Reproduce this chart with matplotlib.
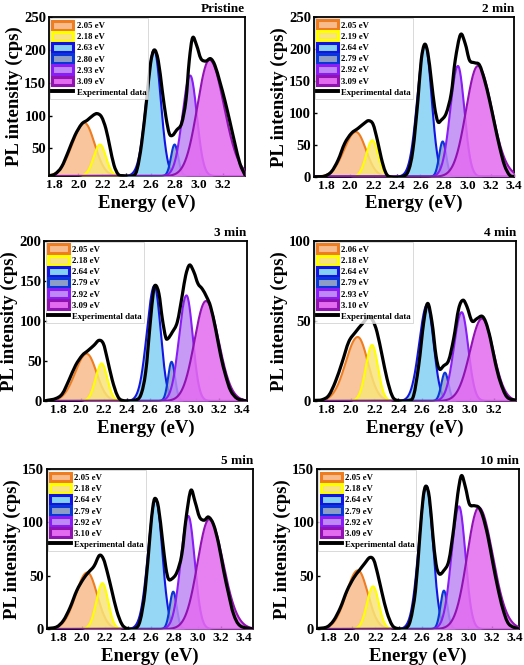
import numpy as np
import matplotlib.pyplot as plt
from matplotlib.patches import Patch, PathPatch
from matplotlib.lines import Line2D
from matplotlib.path import Path

plt.rcParams['font.family'] = ['Liberation Serif', 'DejaVu Serif']
plt.rcParams['font.weight'] = 'bold'

titles = ['Pristine', '2 min', '3 min', '4 min', '5 min', '10 min']

# fitted peak centres (eV), as given in the legends
centers = [
    [2.05, 2.18, 2.63, 2.80, 2.93, 3.09],
    [2.05, 2.19, 2.64, 2.79, 2.92, 3.09],
    [2.05, 2.18, 2.64, 2.79, 2.92, 3.09],
    [2.06, 2.18, 2.64, 2.79, 2.93, 3.10],
    [2.05, 2.18, 2.64, 2.79, 2.92, 3.10],
    [2.05, 2.18, 2.64, 2.79, 2.92, 3.09],
]
# peak heights (cps)
heights = [
    [89, 56, 200, 56, 161, 185],
    [70, 57, 207, 55, 173, 173],
    [59, 47, 144, 49, 132, 125],
    [40, 35, 60, 17.7, 55.5, 51.5],
    [53, 43, 122, 35, 106, 103],
    [55, 40, 134, 36, 115, 114],
]
# widths (eV), low / high energy side
sig_left = [0.10, 0.052, 0.065, 0.03, 0.065, 0.10]
sig_right = [0.085, 0.05, 0.055, 0.03, 0.055, 0.12]
# the 3.1 eV band is narrower on its high energy side in some runs
magenta_right = [0.12, 0.12, 0.11, 0.095, 0.12, 0.12]
baselines = [8, 0, 0, 0, 0, 0]

# experimental spectra
exp_energy = [
    [1.756, 1.806, 1.861, 1.916, 1.972, 2.027, 2.074, 2.124, 2.157, 2.193, 2.229, 2.262, 2.296, 2.332, 2.373,
     2.456, 2.49, 2.526, 2.567, 2.60, 2.631, 2.664, 2.697, 2.728, 2.756, 2.783, 2.817, 2.858, 2.894, 2.922,
     2.95, 2.983, 3.019, 3.06, 3.099, 3.135, 3.177, 3.218, 3.26, 3.301, 3.343, 3.385],
    [1.69, 1.727, 1.784, 1.841, 1.898, 1.954, 2.011, 2.068, 2.125, 2.159, 2.196, 2.233, 2.267, 2.301, 2.338,
     2.437, 2.494, 2.536, 2.579, 2.607, 2.636, 2.664, 2.693, 2.721, 2.749, 2.778, 2.82, 2.863, 2.897, 2.942,
     2.982, 3.019, 3.062, 3.104, 3.147, 3.189, 3.232, 3.275, 3.317, 3.36, 3.40],
    [1.68, 1.706, 1.779, 1.837, 1.895, 1.953, 2.011, 2.061, 2.113, 2.157, 2.195, 2.229, 2.273, 2.317, 2.36,
     2.462, 2.52, 2.564, 2.602, 2.631, 2.651, 2.68, 2.709, 2.738, 2.758, 2.796, 2.84, 2.883, 2.913, 2.947,
     2.985, 3.02, 3.058, 3.096, 3.131, 3.174, 3.218, 3.261, 3.305, 3.363, 3.445],
    [1.692, 1.706, 1.762, 1.818, 1.873, 1.929, 1.985, 2.041, 2.096, 2.152, 2.188, 2.222, 2.264, 2.305, 2.347,
     2.389, 2.487, 2.528, 2.57, 2.612, 2.646, 2.682, 2.715, 2.743, 2.779, 2.821, 2.863, 2.905, 2.941, 2.975,
     3.016, 3.058, 3.10, 3.133, 3.17, 3.211, 3.253, 3.309, 3.387],
    [1.70, 1.714, 1.786, 1.844, 1.901, 1.959, 2.016, 2.059, 2.108, 2.154, 2.189, 2.223, 2.261, 2.304, 2.347,
     2.39, 2.462, 2.505, 2.548, 2.591, 2.614, 2.634, 2.663, 2.698, 2.726, 2.749, 2.778, 2.821, 2.864, 2.902,
     2.942, 2.979, 3.017, 3.057, 3.094, 3.137, 3.181, 3.224, 3.267, 3.31, 3.367, 3.48],
    [1.698, 1.712, 1.784, 1.841, 1.899, 1.956, 2.014, 2.062, 2.108, 2.151, 2.186, 2.22, 2.257, 2.30, 2.344,
     2.387, 2.458, 2.501, 2.545, 2.582, 2.611, 2.636, 2.665, 2.694, 2.722, 2.751, 2.788, 2.832, 2.875, 2.909,
     2.941, 2.975, 3.01, 3.053, 3.09, 3.124, 3.167, 3.21, 3.253, 3.297, 3.348, 3.434],
]
exp_intensity = [
    [8.5, 11, 22, 45, 70, 87, 93, 100.6, 103, 98, 80, 52.5, 24.7, 10.5, 8.5,
     8.5, 19.6, 57.6, 123, 179, 200, 184, 138.6, 98, 72.8, 70, 78, 88, 123, 184,
     218.6, 207, 186.7, 183, 186.7, 176.6, 151, 123, 90.5, 57.6, 27, 9.5],
    [0, 0, 1, 7.8, 26, 52, 67.7, 75.5, 84, 87.5, 82, 57, 28.6, 7.8, 0,
     0, 7.8, 41.7, 120, 182, 206.8, 192.7, 151, 109, 86, 88.5, 99, 130, 182, 222,
     208, 182, 178, 174.5, 151, 120, 83, 47, 18, 2.6, 0],
    [0, 0.8, 3, 9, 26, 44.6, 57, 63, 69.6, 75.8, 71.7, 53, 26, 7, 0.8,
     0.8, 7, 36, 94.6, 136, 144.6, 134, 103, 80, 78, 86, 98.8, 132, 157, 170,
     161, 146.7, 140, 130, 117.5, 90, 57, 32, 13, 3, 0],
    [0.4, 0.4, 0.8, 3.5, 12, 24, 37, 43, 48, 52.5, 50, 43, 28.5, 14, 3.5,
     0.4, 0.4, 3.5, 22, 49, 61, 49, 28.5, 20, 22, 25.4, 39, 57.7, 63, 58.8,
     50, 51.5, 53, 49, 39, 24, 12, 2.5, 0.4],
    [0.5, 0.6, 2, 8, 20, 36, 47, 53, 59, 69, 65.6, 53, 36, 17, 4.7,
     0.6, 0.6, 8, 36, 89, 114, 122.5, 114, 83, 58, 47, 47, 53, 70, 105,
     130, 119, 105, 102, 105, 98, 80, 55, 33, 14, 3, 0],
    [0.5, 0.6, 2, 8, 20, 36, 48, 55, 61.5, 67, 64.7, 51.6, 34, 15.6, 3.75,
     0.6, 0.6, 8, 36, 86, 123, 134, 123, 89, 61, 51.6, 54.7, 64, 95, 126.5,
     143.8, 133, 117, 115.6, 114, 106, 87.5, 62.5, 39, 19, 4.7, 0],
]

xlims = [(1.756, 3.385), (1.69, 3.401), (1.68, 3.445), (1.692, 3.387), (1.70, 3.48), (1.698, 3.434)]
ylims = [(8, 250), (0, 250), (0, 200), (0, 100), (0, 150), (0, 150)]
ytick_sets = [[50, 100, 150, 200, 250], [0, 50, 100, 150, 200, 250], [0, 50, 100, 150, 200],
              [0, 50, 100], [0, 50, 100, 150], [0, 50, 100, 150]]
xticks = [1.8, 2.0, 2.2, 2.4, 2.6, 2.8, 3.0, 3.2, 3.4]

fill_colors = ['#f8bb8c', '#f8e47a', '#84d0f4', '#8e9dc6', '#be88f5', '#e36bef']
edge_colors = ['#ee7d22', '#ffff00', '#1414e0', '#0a35d8', '#8a1cf5', '#9012b0']

# axes boxes in figure fractions [left, bottom, width, height]
boxes = [
    [0.0935, 0.7353, 0.374, 0.239],
    [0.5987, 0.7343, 0.3828, 0.2406],
    [0.0845, 0.397, 0.3863, 0.2406],
    [0.5987, 0.397, 0.3866, 0.2406],
    [0.0891, 0.0541, 0.3943, 0.2406],
    [0.605, 0.0541, 0.385, 0.2406],
]


def peak(e, c, h, sl, sr, base):
    s = np.where(e < c, sl, sr)
    return base + (h - base) * np.exp(-(e - c) ** 2 / (2 * s ** 2))


def smooth_path(x, y):
    # cubic bezier path through the read points (catmull-rom tangents)
    p = np.column_stack([x, y]).astype(float)
    pp = np.vstack([p[0], p, p[-1]])
    verts = [p[0]]
    codes = [Path.MOVETO]
    for i in range(len(p) - 1):
        c1 = pp[i + 1] + (pp[i + 2] - pp[i]) / 6.0
        c2 = pp[i + 2] - (pp[i + 3] - pp[i + 1]) / 6.0
        verts += [c1, c2, pp[i + 2]]
        codes += [Path.CURVE4] * 3
    return Path(verts, codes)


fig = plt.figure(figsize=(5.24, 6.65), dpi=100)

for k in range(6):
    ax = fig.add_axes(boxes[k])
    e = np.linspace(xlims[k][0], xlims[k][1], 800)
    base = baselines[k]
    handles = []
    for j in range(6):
        sr = magenta_right[k] if j == 5 else sig_right[j]
        y = peak(e, centers[k][j], heights[k][j], sig_left[j], sr, base)
        ax.fill_between(e, base, y, color=fill_colors[j], alpha=0.85, lw=0, zorder=2 + j)
        ax.plot(e, y, color=edge_colors[j], lw=1.5, zorder=2 + j)
        handles.append(Patch(facecolor=fill_colors[j], edgecolor=edge_colors[j], linewidth=2.2,
                             label='%.2f eV' % centers[k][j]))
    ax.add_patch(PathPatch(smooth_path(exp_energy[k], exp_intensity[k]), fill=False, ec='black',
                           lw=2.3, joinstyle='round', capstyle='round', zorder=10))
    handles.append(Line2D([], [], color='black', lw=2.8, label='Experimental data'))

    ax.set_xlim(*xlims[k])
    ax.set_ylim(*ylims[k])
    shown = [t for t in xticks if xlims[k][0] <= t <= xlims[k][1]]
    ax.set_xticks(shown)
    ax.set_xticklabels(['%.1f' % t for t in shown])
    ax.set_yticks(ytick_sets[k])
    ax.tick_params(axis='x', labelsize=9.5, direction='in', length=2, width=1, pad=2.5)
    ax.tick_params(axis='y', labelsize=10.5, direction='in', length=2, width=1, pad=2)
    for sp in ax.spines.values():
        sp.set_linewidth(1.3)
    ax.set_xlabel('Energy (eV)', fontsize=13.5, fontweight='bold', labelpad=2)
    ax.set_ylabel('PL intensity (cps)', fontsize=13.5, fontweight='bold', labelpad=1)
    ax.text(1.0, 1.03, titles[k], transform=ax.transAxes, ha='right', va='baseline',
            fontsize=9.5, fontweight='bold')
    leg = ax.legend(handles=handles, loc='upper left', fontsize=6.3, frameon=True, fancybox=False,
                    edgecolor='#c8c8c8', borderaxespad=0.15, borderpad=0.25, labelspacing=0.2,
                    handlelength=2.4, handleheight=1.2, handletextpad=0.35)
    leg.get_frame().set_linewidth(0.6)
    leg.set_zorder(20)

fig.savefig('out.png', dpi=100)
